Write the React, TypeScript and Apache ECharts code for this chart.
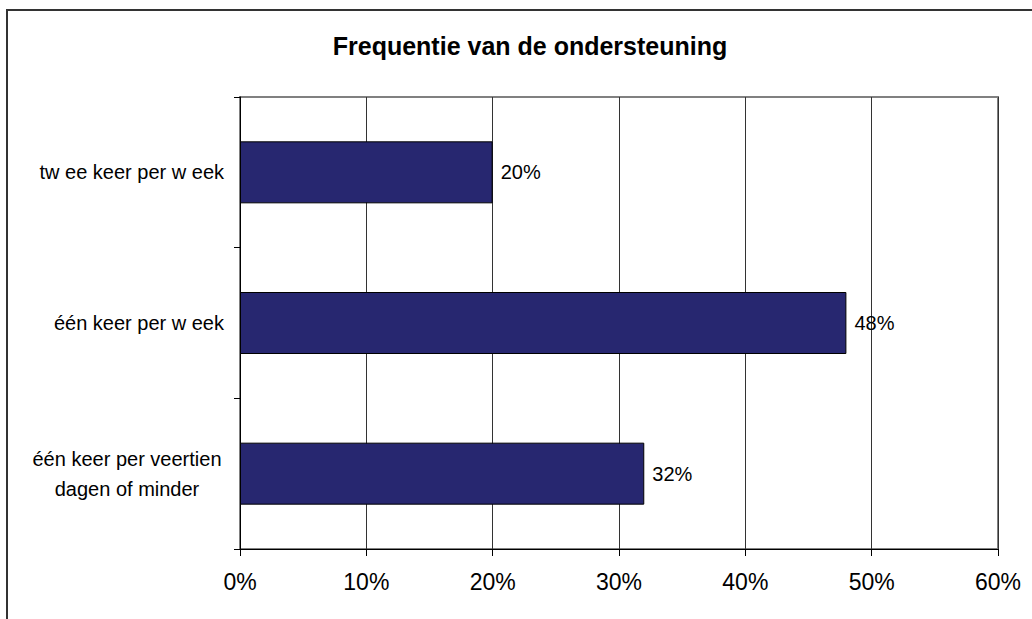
import React, { useEffect, useRef } from "react";
import * as echarts from "echarts";

const titleText = "Frequentie van de ondersteuning";
const categories = [
  "tw ee keer per w eek",
  "één keer per w eek",
  "één keer per veertien\ndagen of minder",
];
const values = [20, 48, 32];
const axisMin = 0;
const axisMax = 60;
const axisStep = 10;

export default function App() {
  const ref = useRef<HTMLDivElement>(null);
  useEffect(() => {
    if (!ref.current) return;
    const chart = echarts.init(ref.current, null, { renderer: "svg" });
    const font = "'Liberation Sans', Arial, sans-serif";
    chart.setOption({
      animation: false,
      backgroundColor: "#ffffff",
      title: {
        text: titleText,
        left: 525,
        top: 28,
        textAlign: "center",
        textStyle: { fontFamily: font, fontSize: 25, fontWeight: "bold", color: "#000" },
      },
      graphic: [
        {
          type: "polyline",
          shape: { points: [[7, 640], [7, 10], [1040, 10]] },
          style: { fill: "none", stroke: "#333", lineWidth: 2 },
          silent: true,
        },
      ],
      grid: {
        left: 240,
        right: 34,
        top: 97,
        bottom: 70,
        show: true,
        borderColor: "#808080",
        borderWidth: 2,
        backgroundColor: "transparent",
      },
      xAxis: {
        type: "value",
        min: axisMin,
        max: axisMax,
        interval: axisStep,
        axisLine: { show: true, lineStyle: { color: "#000", width: 1 } },
        axisTick: { show: true, length: 7, lineStyle: { color: "#000" } },
        splitLine: { show: true, lineStyle: { color: "#333", width: 1 } },
        axisLabel: {
          formatter: (v: number) => v + "%",
          fontFamily: font,
          fontSize: 23,
          color: "#000",
          margin: 21,
        },
      },
      yAxis: {
        type: "category",
        data: categories,
        inverse: true,
        axisLine: { show: true, lineStyle: { color: "#000", width: 1 } },
        axisTick: { show: true, length: 6, inside: false, lineStyle: { color: "#000" } },
        axisLabel: {
          fontFamily: font,
          fontSize: 20,
          color: "#000",
          margin: 16,
          lineHeight: 30,
          formatter: (v: string) =>
            v.indexOf("\n") >= 0
              ? v
                  .split("\n")
                  .map((s) => "{c|" + s + "}")
                  .join("\n")
              : v,
          rich: {
            c: {
              width: 194,
              align: "center",
              fontFamily: font,
              fontSize: 20,
              color: "#000",
              lineHeight: 30,
            },
          },
        },
      },
      series: [
        {
          type: "bar",
          data: values,
          barWidth: 62,
          itemStyle: { color: "#272770", borderColor: "#000", borderWidth: 1 },
          label: {
            show: true,
            position: "right",
            distance: 8,
            formatter: (p: any) => p.value + "%",
            fontFamily: font,
            fontSize: 20,
            color: "#000",
          },
        },
      ],
    });
    return () => chart.dispose();
  }, []);
  return (
    <div
      ref={ref}
      style={{ position: "absolute", left: 0, top: 0, width: 1032, height: 619 }}
    />
  );
}
